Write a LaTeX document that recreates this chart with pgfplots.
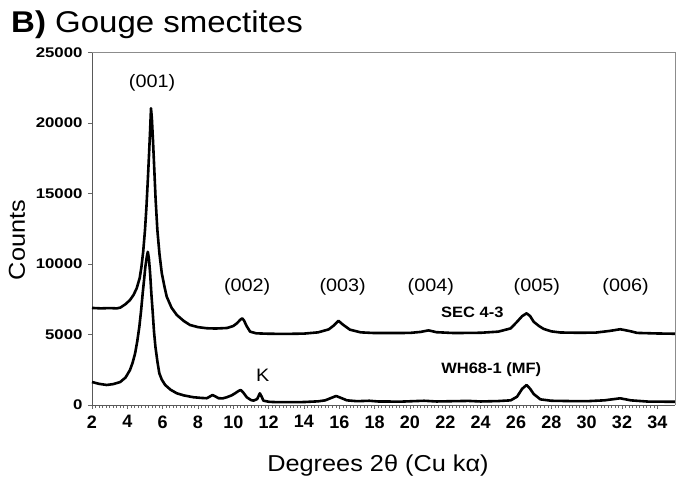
\documentclass[border=0pt]{standalone}
\usepackage{pgfplots}
\pgfplotsset{compat=1.18}
\usepackage{fontspec}
\setmainfont[FakeStretch=1.1]{Liberation Sans}
\newfontfamily\ytfont[FakeStretch=1.2]{Liberation Sans}
\newfontfamily\xtfont[FakeStretch=1.0]{Liberation Sans}
\begin{document}
\begin{tikzpicture}
\begin{axis}[
  name=ax,
  scale only axis, width=583bp, height=352.7bp,
  xmin=2, xmax=35, ymin=0, ymax=25000,
  axis x line*=bottom, axis y line*=left,
  axis line style={black!65, line width=0.9bp},
  xtick={2,4,...,34}, minor x tick num=9,
  ytick={0,5000,...,25000},
  tick align=outside,
  major tick length=4bp, minor tick length=3bp,
  tick style={black!60, line width=0.6bp},
  ytick style={black!60},
  scaled y ticks=false,
  /pgf/number format/assume math mode=true,
  /pgf/number format/set thousands separator={},
  xticklabel style={font=\xtfont\fontsize{18bp}{21bp}\selectfont\bfseries, yshift=-3bp},
  yticklabel style={font=\ytfont\fontsize{14bp}{16bp}\selectfont\bfseries, xshift=-2bp},
  clip=false,
]
\addplot[black, line width=2.6bp, line join=round] coordinates {
(2.0,6880) (2.5,6850) (3.0,6870) (3.4,6850) (3.6,6900) (3.9,7150) (4.15,7440) (4.35,7800)
(4.53,8270) (4.7,9000) (4.8,9800) (4.9,10900) (5.0,12400) (5.08,14000) (5.16,15950) (5.23,17800)
(5.29,19500) (5.34,21030) (5.39,20300) (5.45,18800) (5.51,17150) (5.6,14600) (5.7,12400) (5.82,10700)
(5.95,9350) (6.1,8400) (6.23,7680) (6.5,6900) (6.8,6380) (7.2,5950) (7.55,5670) (8.0,5520)
(8.5,5440) (9.0,5420) (9.65,5460) (10.0,5600) (10.2,5790) (10.4,6050) (10.5,6140) (10.6,6000)
(10.75,5600) (10.95,5200) (11.3,5080) (12.0,5050) (13.0,5040) (14.0,5060) (14.8,5150) (15.4,5360)
(15.7,5650) (15.95,5970) (16.2,5700) (16.6,5340) (17.2,5150) (18.0,5100) (19.0,5100) (20.0,5110)
(20.6,5180) (21.05,5290) (21.5,5160) (22.5,5100) (24.0,5120) (25.0,5200) (25.7,5430) (26.06,5900)
(26.35,6300) (26.6,6500) (26.8,6300) (27.0,5900) (27.3,5600) (27.57,5390) (28.0,5220) (28.5,5140)
(29.5,5120) (30.5,5130) (31.3,5250) (31.9,5370) (32.4,5250) (32.86,5110) (34.0,5070) (35.0,5050)
};
\addplot[black, line width=2.6bp, line join=round] coordinates {
(2.0,1630) (2.4,1500) (2.83,1420) (3.2,1480) (3.6,1630) (3.9,1950) (4.15,2480) (4.3,3000)
(4.44,3660) (4.56,4500) (4.68,5550) (4.78,6700) (4.87,7920) (4.95,8900) (5.02,9800) (5.1,10500)
(5.16,10860) (5.22,10400) (5.29,9330) (5.36,7900) (5.44,6500) (5.51,5200) (5.59,4130) (5.7,3100)
(5.81,2250) (5.95,1800) (6.14,1420) (6.45,1080) (6.8,830) (7.2,680) (7.74,550) (8.2,500)
(8.5,480) (8.7,620) (8.82,710) (9.0,600) (9.16,480) (9.4,470) (9.63,550) (9.9,680)
(10.1,830) (10.3,1000) (10.42,1060) (10.55,900) (10.76,550) (11.0,350) (11.14,310) (11.35,420)
(11.5,830) (11.6,600) (11.7,310) (12.0,230) (12.27,210) (13.0,200) (14.0,210) (14.8,260)
(15.2,330) (15.5,480) (15.82,640) (16.1,500) (16.43,330) (17.0,270) (17.7,300) (18.2,250)
(19.5,240) (20.8,300) (21.5,250) (23.3,290) (24.0,250) (25.0,280) (25.7,330) (26.06,590)
(26.35,1150) (26.6,1420) (26.8,1150) (27.0,780) (27.38,400) (28.0,300) (29.0,280) (30.0,270)
(31.0,330) (31.9,475) (32.5,330) (33.5,240) (35.0,230)
};
\draw[black!45, line width=0.9bp] (rel axis cs:0,1) -- (rel axis cs:1,1) -- (rel axis cs:1,0);
\begin{scope}[every node/.style={font=\fontsize{18bp}{21bp}\selectfont, inner sep=0pt}]
\node at (axis cs:5.4,22820) {(001)};
\node at (axis cs:10.78,8400) {(002)};
\node at (axis cs:16.19,8400) {(003)};
\node at (axis cs:21.18,8400) {(004)};
\node at (axis cs:27.18,8400) {(005)};
\node at (axis cs:32.2,8400) {(006)};
\node at (axis cs:11.66,2130) {K};
\end{scope}
\node[font=\fontsize{15bp}{18bp}\selectfont\bfseries, inner sep=0pt] at (axis cs:23.53,6590) {SEC 4-3};
\node[font=\fontsize{15bp}{18bp}\selectfont\bfseries, inner sep=0pt] at (axis cs:24.6,2520) {WH68-1 (MF)};
\end{axis}
\node[anchor=base west, inner sep=0pt, font=\fontsize{30bp}{34bp}\selectfont] at ([shift={(-81bp,372bp)}]ax.south west) {\bfseries B)\mdseries{} Gouge smectites};
\node[anchor=base, rotate=90, inner sep=0pt, font=\fontsize{23bp}{27bp}\selectfont] at ([shift={(-67bp,165bp)}]ax.south west) {Counts};
\node[anchor=base, inner sep=0pt, font=\fontsize{23bp}{27bp}\selectfont] at ([shift={(286bp,-66bp)}]ax.south west) {Degrees 2θ (Cu kα)};
\pgfresetboundingbox
\path ([shift={(-92bp,-75bp)}]ax.south west) rectangle ++(676bp,480bp);
\end{tikzpicture}
\end{document}
